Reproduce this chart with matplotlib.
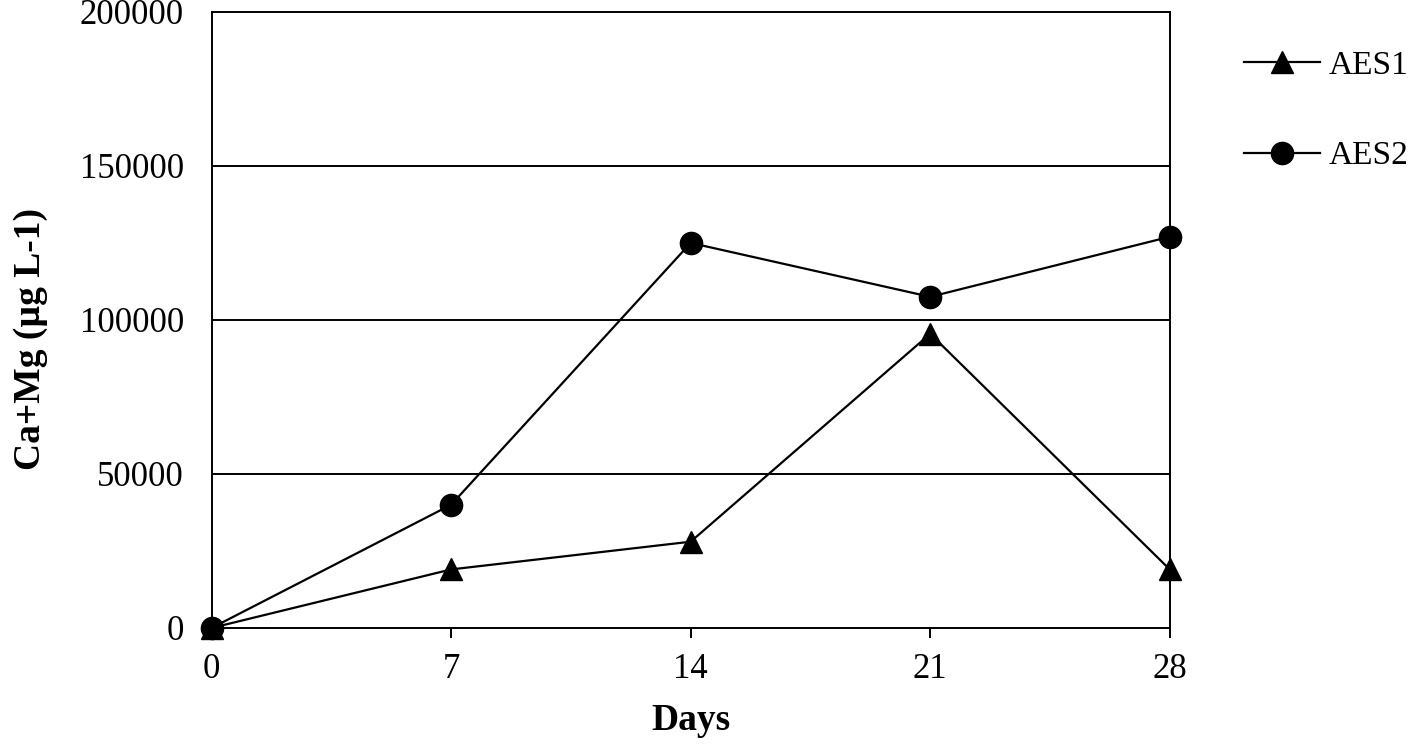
import matplotlib
matplotlib.use("Agg")
import matplotlib.pyplot as plt

days = [0, 7, 14, 21, 28]
aes1 = [0, 19000, 28000, 95500, 19000]
aes2 = [0, 40000, 125000, 107500, 127000]
y_ticks = [0, 50000, 100000, 150000, 200000]

plt.rcParams["font.family"] = ["Liberation Serif", "DejaVu Serif"]

fig = plt.figure(figsize=(14.11, 7.44), dpi=100)
ax = fig.add_axes([0.150, 0.156, 0.679, 0.828])

for y in y_ticks[1:-1]:
    ax.axhline(y, color="black", linewidth=1.4, zorder=1)

ax.plot(days, aes1, "-^", color="black", linewidth=1.6, markersize=16,
        clip_on=False, zorder=3, label="AES1")
ax.plot(days, aes2, "-o", color="black", linewidth=1.6, markersize=16,
        clip_on=False, zorder=3, label="AES2")

ax.set_xlim(0, 28)
ax.set_ylim(0, 200000)
ax.set_xticks(days)
ax.set_yticks(y_ticks)
ax.tick_params(axis="x", direction="out", length=7, width=1.4,
               labelsize=25, pad=11)
ax.tick_params(axis="y", length=0, labelsize=25, pad=20)
for s in ax.spines.values():
    s.set_linewidth(1.4)

ax.set_xlabel("Days", fontsize=27, fontweight="bold", labelpad=12)
ax.set_ylabel("Ca+Mg (µg L-1)", fontsize=27, fontweight="bold")
ax.yaxis.set_label_coords(-0.171, 0.469)

ax.legend(loc="upper left", bbox_to_anchor=(1.064, 0.959), frameon=False,
          fontsize=24, handlelength=2.28, handletextpad=0.24,
          labelspacing=1.8, borderaxespad=0)

fig.savefig("out.png", dpi=100, facecolor="white")
